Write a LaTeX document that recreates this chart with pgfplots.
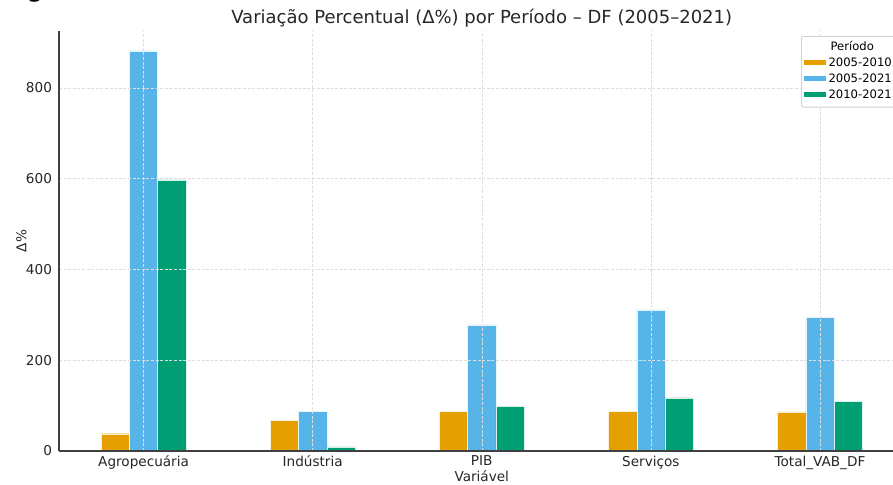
\documentclass[border=0pt]{standalone}
\usepackage{fontspec}
\setmainfont{DejaVu Sans}
\usepackage{pgfplots}
\pgfplotsset{compat=1.18}
\definecolor{corA}{HTML}{E69F00}
\definecolor{corB}{HTML}{56B4E9}
\definecolor{corC}{HTML}{009E73}
\begin{document}
\begin{tikzpicture}
\clip (-29.5pt,-17pt) rectangle (417pt,225.5pt);
% fragmento do titulo anterior, cortado
\node[anchor=base west, font=\bfseries\fontsize{11}{12}\selectfont, inner sep=0pt] at (-16pt,226.5pt) {g};
\begin{axis}[
  at={(0,0)}, anchor=south west,
  scale only axis, width=422.75pt, height=210pt,
  xmin=-0.5, xmax=4.5, ymin=0, ymax=925,
  axis x line*=bottom, axis y line*=left,
  axis line style={black!75, line width=0.6pt},
  ybar=0pt, bar width=14.1pt,
  xtick={0,1,2,3,4},
  xticklabels={Agropecuária,Indústria,PIB,Serviços,Total\_VAB\_DF},
  ytick={0,200,400,600,800},
  major tick length=0pt,
  grid=major,
  major grid style={black!13, dash pattern=on 1.5pt off 0.8pt, line width=0.25pt},
  axis on top,
  /pgf/number format/assume math mode=true,
  ticklabel style={font=\fontsize{6.8}{8}\selectfont, text=black!85},
  xticklabel style={yshift=1pt},
  title={Variação Percentual (Δ\%) por Período – DF (2005–2021)},
  every axis title/.style={font=\fontsize{9}{10}\selectfont, text=black!85, at={(axis description cs:0.5,1)}, anchor=base, yshift=3.5pt},
  xlabel={Variável}, ylabel={Δ\%},
  label style={font=\fontsize{6.8}{8}\selectfont, text=black!85},
  xlabel style={at={(axis description cs:0.5,0)}, anchor=base, yshift=-15.3pt},
  ylabel style={at={(axis description cs:-0.0444,0.5)}, anchor=center},
  legend style={at={(axis description cs:0.8776,0.988)}, anchor=north west,
    font=\fontsize{5.8}{6.5}\selectfont, draw=gray!35, rounded corners=1pt,
    inner sep=1.5pt, row sep=0pt, fill=white, nodes={inner sep=1.1pt}},
  legend cell align=left,
  legend image code/.code={\fill[#1, draw=none, sharp corners] (0pt,-0.6pt) rectangle (11pt,2pt);},
]
\addlegendimage{empty legend}
\addlegendentry{\hspace{1pt}Período}
\addplot[fill=corA, draw=white!85!corA, line width=0.2pt] coordinates {(0,38) (1,68) (2,88) (3,88) (4,86)};
\addlegendentry{2005-2010}
\addplot[fill=corB, draw=white!85!corB, line width=0.2pt] coordinates {(0,881) (1,88) (2,278) (3,311) (4,295)};
\addlegendentry{2005-2021}
\addplot[fill=corC, draw=white!85!corC, line width=0.2pt] coordinates {(0,597) (1,9) (2,99) (3,117) (4,110)};
\addlegendentry{2010-2021}
\end{axis}
\end{tikzpicture}
\end{document}
